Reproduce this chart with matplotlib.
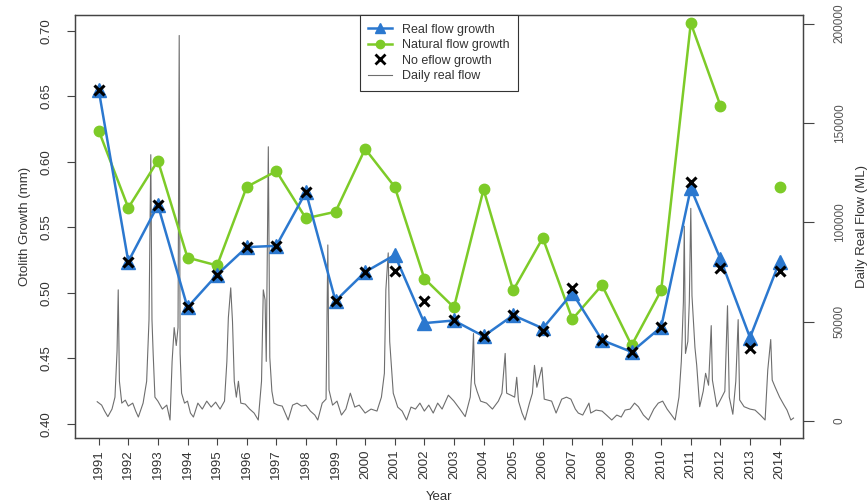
import matplotlib
matplotlib.use('Agg')
import matplotlib.pyplot as plt
import numpy as np
from matplotlib.lines import Line2D

plt.rcParams['font.family'] = ['Liberation Sans', 'DejaVu Sans']

# ---------------- data ----------------
years = list(range(1991, 2015))
year_labels = [str(y) for y in years]

real_flow_growth = [0.655, 0.524, 0.567, 0.489, 0.514, 0.535, 0.536, 0.577, 0.494, 0.516,
                    0.529, 0.477, 0.479, 0.467, 0.483, 0.473, 0.500, 0.464, 0.455, 0.474,
                    0.580, 0.526, 0.466, 0.524]
no_eflow_growth = [0.655, 0.524, 0.567, 0.489, 0.514, 0.535, 0.536, 0.577, 0.494, 0.516,
                   0.517, 0.494, 0.479, 0.467, 0.483, 0.471, 0.504, 0.464, 0.455, 0.474,
                   0.585, 0.519, 0.458, 0.517]
natural_flow_growth = [0.624, 0.565, 0.601, 0.527, 0.521, 0.581, 0.593, 0.557, 0.562, 0.610,
                       0.581, 0.511, 0.489, 0.579, 0.502, 0.542, 0.480, 0.506, 0.460, 0.502,
                       0.706, 0.643, np.nan, 0.581]

flow_time = [
    1990.95, 1991.10, 1991.20, 1991.31, 1991.45, 1991.55, 1991.62, 1991.66, 1991.70, 1991.78,
    1991.90, 1992.00, 1992.15, 1992.25, 1992.34, 1992.50, 1992.62, 1992.70, 1992.76, 1992.80,
    1992.84, 1992.90, 1993.00, 1993.15, 1993.30, 1993.41, 1993.48, 1993.55, 1993.62, 1993.68,
    1993.72, 1993.75, 1993.80, 1993.90, 1994.00, 1994.10, 1994.20, 1994.35, 1994.50, 1994.65,
    1994.80, 1994.95, 1995.10, 1995.25, 1995.33, 1995.38, 1995.46, 1995.52, 1995.58, 1995.65,
    1995.72, 1995.80, 1995.95, 1996.10, 1996.25, 1996.39, 1996.50, 1996.56, 1996.62, 1996.66,
    1996.73, 1996.78, 1996.85, 1996.92, 1997.05, 1997.20, 1997.30, 1997.40, 1997.55, 1997.70,
    1997.85, 1998.00, 1998.15, 1998.30, 1998.40, 1998.55, 1998.68, 1998.74, 1998.78, 1998.90,
    1999.05, 1999.20, 1999.35, 1999.50, 1999.65, 1999.80, 2000.00, 2000.20, 2000.40, 2000.55,
    2000.65, 2000.70, 2000.78, 2000.83, 2000.95, 2001.10, 2001.25, 2001.40, 2001.55, 2001.70,
    2001.85, 2002.00, 2002.15, 2002.30, 2002.45, 2002.60, 2002.81, 2003.00, 2003.20, 2003.38,
    2003.55, 2003.62, 2003.66, 2003.70, 2003.78, 2003.90, 2004.10, 2004.30, 2004.50, 2004.62,
    2004.73, 2004.78, 2004.92, 2005.05, 2005.12, 2005.18, 2005.30, 2005.40, 2005.55, 2005.65,
    2005.72, 2005.80, 2005.97, 2006.05, 2006.30, 2006.45, 2006.64, 2006.80, 2006.95, 2007.10,
    2007.20, 2007.35, 2007.56, 2007.62, 2007.80, 2008.00, 2008.15, 2008.33, 2008.50, 2008.65,
    2008.78, 2008.95, 2009.10, 2009.23, 2009.40, 2009.57, 2009.75, 2009.90, 2010.05, 2010.20,
    2010.35, 2010.47, 2010.60, 2010.68, 2010.75, 2010.78, 2010.82, 2010.90, 2010.95, 2011.00,
    2011.04, 2011.14, 2011.20, 2011.30, 2011.42, 2011.50, 2011.60, 2011.69, 2011.73, 2011.88,
    2012.00, 2012.15, 2012.24, 2012.30, 2012.42, 2012.52, 2012.60, 2012.65, 2012.80, 2013.00,
    2013.17, 2013.35, 2013.51, 2013.60, 2013.70, 2013.75, 2013.85, 2014.00, 2014.15, 2014.25,
    2014.38, 2014.47]
flow_value = [
    9700, 8000, 5000, 2200, 6000, 12000, 35000, 66000, 20000, 9000,
    10500, 7500, 9000, 5000, 2000, 9000, 20000, 51000, 134000, 51000,
    34000, 12000, 10000, 6000, 8000, 500, 30000, 47000, 38000, 47000,
    194000, 34000, 14000, 9000, 10000, 4000, 2000, 9000, 6000, 10000,
    7000, 9500, 6000, 10000, 30000, 52000, 67000, 50000, 20000, 12000,
    20000, 9000, 8500, 6000, 4000, 500, 20000, 66000, 61000, 30000,
    138000, 32000, 15000, 9000, 8000, 7500, 4000, 500, 8000, 9000,
    7500, 8000, 5000, 3000, 500, 9000, 11000, 88600, 15600, 8000,
    10000, 3000, 6000, 14000, 7000, 8000, 4000, 6000, 5000, 12000,
    24000, 66000, 84600, 40000, 14000, 7000, 5000, 500, 7000, 6000,
    9000, 5000, 8000, 4000, 9000, 6000, 13000, 10000, 6000, 2200,
    12000, 29000, 44000, 19000, 15000, 10000, 9000, 6000, 10000, 14000,
    34000, 14000, 13000, 12000, 22000, 10000, 4000, 500, 9000, 14000,
    28000, 17000, 27000, 11000, 10000, 4000, 11000, 12000, 11000, 6000,
    4000, 3000, 9000, 4000, 5500, 5000, 3000, 500, 3000, 2000,
    5500, 6000, 9000, 7200, 3000, 500, 6000, 9000, 10000, 6000,
    3000, 500, 12000, 30000, 60000, 98000, 34000, 40000, 60000, 107000,
    63000, 37000, 28000, 7200, 15000, 24000, 18000, 48000, 20600, 7200,
    10600, 15000, 58000, 12000, 3400, 20000, 51000, 10600, 7200, 6000,
    5500, 3000, 500, 25700, 41000, 20600, 17000, 12000, 8000, 5500,
    500, 1500]

flow_ticks = [0, 50000, 100000, 150000, 200000]
growth_ticks = [0.40, 0.45, 0.50, 0.55, 0.60, 0.65, 0.70]

# ---------------- style ----------------
BLUE = '#2b78cf'
GREEN = '#7dcb28'
GRAY = '#6e6e6e'
AXC = '#444444'
TXT = '#333333'

W, H = 868, 503
L, R, B, T = 75, 803, 438, 15

fig = plt.figure(figsize=(W / 100, H / 100), dpi=100)
ax = fig.add_axes([L / W, 1 - B / H, (R - L) / W, (B - T) / H])
ax2 = ax.twinx()

# flow (right axis)
ax.plot(flow_time, flow_value, color=GRAY, lw=0.8, zorder=1)
ax.set_ylim(-8550, 204300)
ax.set_xlim(1990.2, 2014.79)
ax.yaxis.tick_right()
ax.set_yticks(flow_ticks)
ax.set_yticklabels([str(v) for v in flow_ticks], rotation=90, va='center',
                   fontsize=8.5, color='#555555')
ax.set_xticks(years)
ax.set_xticklabels(year_labels, rotation=90, fontsize=9.5, color=TXT)
ax.tick_params(axis='x', length=5, width=0.8, color=AXC, pad=3)
ax.tick_params(axis='y', which='both', left=False, labelleft=False, right=True,
               labelright=True, length=8, width=0.8, color=AXC, pad=14)
ax.set_xlabel('Year', fontsize=9.5, color=TXT)
ax.xaxis.set_label_coords(0.5, (B - 497) / (B - T))
ax.xaxis.label.set_verticalalignment('center')
ax.yaxis.set_label_position('right')
ax.set_ylabel('Daily Real Flow (ML)', fontsize=9.5, color=TXT)
ax.yaxis.set_label_coords((862 - L) / (R - L), 0.5)
ax.yaxis.label.set_verticalalignment('center')

# growth (left axis)
ax2.yaxis.tick_left()
ax2.yaxis.set_label_position('left')
ax2.set_ylim(0.3893, 0.7122)
ax2.set_yticks(growth_ticks)
ax2.set_yticklabels(['%.2f' % v for v in growth_ticks], rotation=90, va='center',
                    fontsize=9.5, color=TXT)
ax2.tick_params(axis='y', which='both', left=True, labelleft=True, right=False,
                labelright=False, length=6, width=0.8, color=AXC, pad=10)
ax2.set_ylabel('Otolith Growth (mm)', fontsize=9.5, color=TXT)
ax2.yaxis.set_label_coords((25 - L) / (R - L), 0.5)
ax2.yaxis.label.set_verticalalignment('center')

ax2.plot(years, natural_flow_growth, color=GREEN, lw=1.8, marker='o', ms=7.5,
         zorder=3)
ax2.plot(years, real_flow_growth, color=BLUE, lw=1.8, marker='^', ms=9.5,
         zorder=4)
ax2.plot(years, no_eflow_growth, ls='none', marker='x', ms=7.5, mew=2.2,
         color='black', zorder=5)

for a in (ax, ax2):
    for s in a.spines.values():
        s.set_color(AXC)
        s.set_linewidth(0.9)

handles = [
    Line2D([], [], color=BLUE, lw=1.8, marker='^', ms=7),
    Line2D([], [], color=GREEN, lw=1.8, marker='o', ms=6),
    Line2D([], [], ls='none', color='black', marker='x', ms=6.5, mew=2),
    Line2D([], [], color=GRAY, lw=0.8),
]
labels = ['Real flow growth', 'Natural flow growth', 'No eflow growth', 'Daily real flow']
leg = ax2.legend(handles, labels, loc='upper center', bbox_to_anchor=(0.5, 1.0),
                 borderaxespad=0, fancybox=False, edgecolor='#333333', framealpha=1,
                 fontsize=9, labelspacing=0.28, borderpad=0.7, handlelength=1.9,
                 handletextpad=0.8, labelcolor=TXT)
leg.get_frame().set_linewidth(0.8)
leg.set_zorder(10)

fig.savefig('out.png', dpi=100)
